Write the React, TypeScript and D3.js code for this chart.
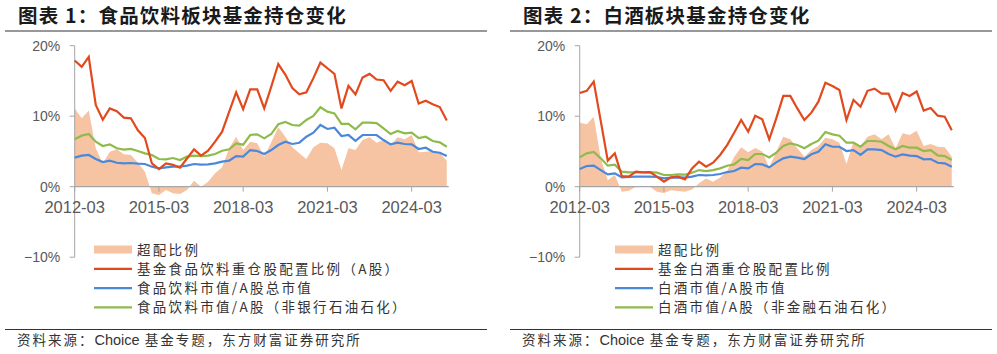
import React from 'react';
import * as d3 from 'd3';

// quarterly categories 2012-03 .. 2025-06
const quarters = d3.range(54).map(i => `${2012 + Math.floor(i / 4)}-${String((i % 4) * 3 + 3).padStart(2, '0')}`);
const tickLabels = ['2012-03', '2015-03', '2018-03', '2021-03', '2024-03'];
const yTicks = [20, 10, 0, -10];

// chart 1: food & beverage
const foodOver = [11.1, 9.7, 10.8, 5.45, 3.3, 4.96, 5.3, 4.59, 4.5, 3.4, 2.13, -0.94, -1.18, -0.47, -0.94, -1.04, -0.47, 0.85, 0, 0.71, 1.9, 2.75, 5.45, 7.09, 5.2, 6.38, 6.15,
  4.26, 6.3, 8.42, 7.09, 5.58, 4.73, 3.93, 5.58, 6.24, 6.15, 5.45, 2.36, 5.45, 5.2, 6.62, 7.0, 6.24, 6.62, 5.91, 7.0, 6.72, 7.33, 4.87, 4.96, 5.06, 4.73, 3.69];
const foodFund = [17.9, 17.0, 18.4, 11.6, 9.5, 11.1, 10.7, 9.8, 9.7, 8.0, 6.9, 3.3, 2.5, 3.3, 3.1, 2.7, 4.0, 5.3, 4.4, 5.1, 6.4, 7.8, 10.6, 13.4, 11.0, 13.8, 13.8,
  11.1, 14.2, 17.4, 15.9, 14.0, 13.1, 13.4, 15.4, 17.6, 16.8, 16.0, 11.1, 14.3, 13.1, 15.5, 16.0, 15.2, 15.1, 13.6, 14.9, 14.4, 15.0, 11.8, 12.2, 11.7, 11.3, 9.4];
const foodMkt = [4.12, 4.4, 4.5, 3.93, 3.5, 3.69, 3.4, 3.31, 3.36, 3.26, 3.22, 2.84, 2.6, 2.75, 2.84, 2.84, 2.98, 3.22, 3.12, 3.17, 3.31, 3.55, 3.69, 4.35, 4.26, 5.2, 5.06,
  4.64, 5.2, 5.91, 6.38, 6.06, 6.24, 7.09, 7.66, 8.75, 8.19, 8.37, 7.19, 7.33, 6.52, 7.33, 7.33, 7.33, 6.62, 6.01, 6.24, 6.06, 6.01, 5.35, 5.53, 4.96, 4.82, 4.35];
const foodMktEx = [6.72, 7.24, 7.47, 6.38, 5.77, 6.0, 5.45, 5.25, 5.35, 5.06, 4.73, 4.5, 3.93, 3.88, 4.07, 3.79, 4.26, 4.4, 4.35, 4.4, 4.64, 5.1, 5.3, 6.15, 5.96, 7.33, 7.43,
  6.86, 7.47, 8.85, 9.18, 8.75, 8.66, 9.46, 10.03, 11.26, 10.64, 10.4, 8.9, 8.9, 8.14, 9.08, 9.08, 9.03, 8.28, 7.47, 7.9, 7.57, 7.66, 6.9, 7.09, 6.48, 6.29, 5.67];
const foodLegend = ['超配比例', '基金食品饮料重仓股配置比例（A股）', '食品饮料市值/A股总市值', '食品饮料市值/A股（非银行石油石化）'];

// chart 2: baijiu
const liquorOver = [9.08, 8.85, 9.93, 4.0, 0.9, 1.66, -0.71, -0.57, 0.0, 0.1, 0.0, -0.7, -0.9, -0.5, -0.6, -0.7, -0.4, 0.5, 1.18, 0.7, 1.3, 2.2, 4.2, 5.6, 4.9, 5.5, 5.0,
  2.7, 5.0, 7.09, 6.72, 5.45, 4.26, 5.2, 5.77, 6.95, 6.72, 6.24, 3.22, 6.38, 5.77, 7.09, 7.43, 6.72, 7.43, 5.45, 7.57, 7.33, 7.94, 5.77, 6.06, 5.67, 5.58, 4.26];
const liquorFund = [13.3, 13.6, 14.9, 9.3, 3.7, 4.73, 1.52, 1.42, 2.13, 2.04, 2.08, 1.42, 0.71, 1.33, 1.42, 1.04, 2.6, 3.55, 2.84, 3.4, 4.5, 5.91, 7.66, 9.46, 7.8, 10.07, 9.56,
  6.72, 9.7, 12.87, 12.87, 11.1, 9.46, 10.5, 12.06, 14.75, 14.28, 13.72, 9.46, 12.3, 11.35, 13.6, 13.9, 13.2, 13.2, 10.8, 13.3, 12.87, 13.5, 10.8, 11.16, 10.07, 9.93, 8.0];
const liquorMkt = [2.51, 2.94, 2.98, 2.36, 1.75, 1.9, 1.33, 1.38, 1.42, 1.42, 1.42, 1.38, 1.18, 1.28, 1.33, 1.28, 1.42, 1.66, 1.61, 1.66, 1.8, 2.08, 2.22, 2.7, 2.6, 3.22, 3.17,
  2.75, 3.46, 4.02, 4.26, 4.12, 3.93, 4.59, 4.96, 6.01, 5.67, 5.67, 5.06, 5.2, 4.5, 5.3, 5.3, 5.2, 4.64, 4.26, 4.59, 4.4, 4.35, 3.88, 3.93, 3.4, 3.31, 2.84];
const liquorMktEx = [4.16, 4.73, 4.92, 4.02, 2.98, 3.12, 2.13, 2.04, 2.04, 2.04, 2.08, 1.99, 1.66, 1.66, 1.75, 1.7, 1.99, 2.36, 2.22, 2.36, 2.6, 2.98, 3.17, 3.93, 3.79, 4.64, 4.64,
  4.16, 4.82, 5.77, 6.15, 5.91, 5.45, 6.06, 6.52, 7.76, 7.43, 7.24, 6.24, 6.24, 5.67, 6.48, 6.48, 6.38, 5.77, 5.3, 5.77, 5.53, 5.53, 5.06, 5.2, 4.45, 4.35, 3.79];
const liquorLegend = ['超配比例', '基金白酒重仓股配置比例', '白酒市值/A股市值', '白酒市值/A股（非金融石油石化）'];

const sourceHead = '资料来源：';
const sourceLatin = 'Choice';
const sourceTail = ' 基金专题，东方财富证券研究所';

const AREA = '#F6C3A3';
const RED = '#E2491D';
const BLUE = '#4A89DA';
const GREEN = '#8EBB4C';
const AXIS = '#A6A6A6';
const CJK = '"Noto Sans CJK SC", sans-serif';
const LATIN = '"Liberation Sans", Arial, sans-serif';

type PanelProps = {
  left: number; axisX: number; legendX: number; title: string;
  over: number[]; fund: number[]; mkt: number[]; mktEx: number[]; legend: string[];
};

function Panel({ left, axisX, legendX, title, over, fund, mkt, mktEx, legend }: PanelProps) {
  const x = d3.scalePoint<string>().domain(quarters).range([axisX, axisX + 53 * 7.02]);
  const y = d3.scaleLinear().domain([-10, 20]).range([257.2, 45.7]);
  const px = (_: number, i: number) => x(quarters[i]) as number;
  const area = d3.area<number>().x(px).y0(y(0)).y1(d => y(d));
  const line = d3.line<number>().x(px).y(d => y(d));
  const xEnd = (x(quarters[53]) as number) + 2;
  const colors = [RED, BLUE, GREEN];

  return (
    <g>
      <text x={left + 18} y={23} fontFamily={CJK} fontWeight="bold" fontSize={19.5} letterSpacing={1.2} fill="#1a1a1a">{title}</text>
      <line x1={left + 5} x2={left + 487} y1={31} y2={31} stroke="#333" strokeWidth={1.2} />

      <path d={area(over) || ''} fill={AREA} />
      <line x1={axisX} x2={axisX} y1={y(20)} y2={y(-10)} stroke={AXIS} strokeWidth={1} />
      {yTicks.map(t => (
        <g key={t}>
          <line x1={axisX - 5} x2={axisX} y1={y(t)} y2={y(t)} stroke={AXIS} />
          <text x={axisX - 14.5} y={y(t)} dy="0.36em" textAnchor="end" fontFamily={LATIN} fontSize={14} fill="#595959">
            {t < 0 ? `−${-t}%` : `${t}%`}
          </text>
        </g>
      ))}
      <line x1={axisX} x2={xEnd} y1={y(0)} y2={y(0)} stroke={AXIS} strokeWidth={1.2} />
      {tickLabels.map(t => (
        <g key={t}>
          <line x1={x(t)} x2={x(t)} y1={y(0)} y2={y(0) + 5} stroke={AXIS} />
          <text x={x(t)} y={212.5} textAnchor="middle" fontFamily={LATIN} fontSize={16.5} fill="#595959">{t}</text>
        </g>
      ))}

      <path d={line(mktEx) || ''} fill="none" stroke={GREEN} strokeWidth={2.2} />
      <path d={line(mkt) || ''} fill="none" stroke={BLUE} strokeWidth={2.2} />
      <path d={line(fund) || ''} fill="none" stroke={RED} strokeWidth={2.2} />

      {legend.map((name, i) => {
        const cy = 249.5 + i * 19.3;
        return (
          <g key={name}>
            {i === 0
              ? <rect x={legendX} y={cy - 4} width={38} height={8} fill={AREA} />
              : <line x1={legendX} x2={legendX + 38} y1={cy} y2={cy} stroke={colors[i - 1]} strokeWidth={2.2} />}
            <text x={legendX + 43} y={cy + 5} fontFamily={CJK} fontSize={13.5} letterSpacing={2.3} fill="#333">{name}</text>
          </g>
        );
      })}

      <line x1={left + 5} x2={left + 487} y1={329.5} y2={329.5} stroke="#333" strokeWidth={1.2} />
      <text x={left + 17} y={345} fontFamily={CJK} fontSize={13.5} fill="#333">
        <tspan letterSpacing={2}>{sourceHead}</tspan>
        <tspan fontFamily={LATIN} fontSize={14.5}>{sourceLatin}</tspan>
        <tspan letterSpacing={2}>{sourceTail}</tspan>
      </text>
    </g>
  );
}

export default function App() {
  return (
    <svg width={997} height={354} style={{ position: 'absolute', left: 0, top: 0, background: '#fff' }}>
      <rect width={997} height={354} fill="#fff" />
      <Panel left={0} axisX={74.7} legendX={94} title="图表 1：食品饮料板块基金持仓变化"
        over={foodOver} fund={foodFund} mkt={foodMkt} mktEx={foodMktEx} legend={foodLegend} />
      <Panel left={505} axisX={579.7} legendX={615} title="图表 2：白酒板块基金持仓变化"
        over={liquorOver} fund={liquorFund} mkt={liquorMkt} mktEx={liquorMktEx} legend={liquorLegend} />
    </svg>
  );
}
